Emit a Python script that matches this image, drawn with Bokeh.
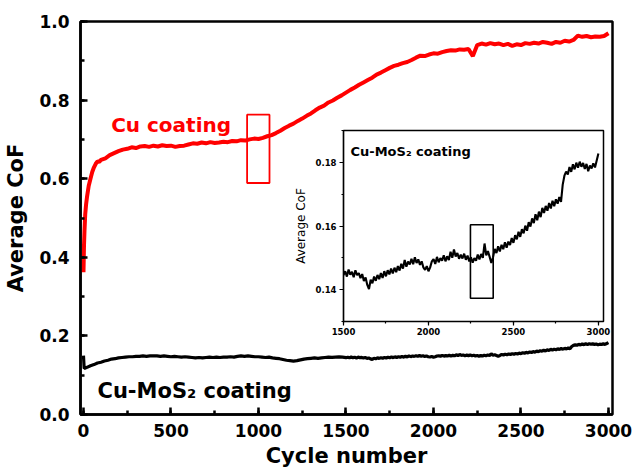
from bokeh.plotting import figure
from bokeh.models import Range1d, SingleIntervalTicker, PrintfTickFormatter, Label
from bokeh.layouts import column
from bokeh.embed import file_html
from bokeh.resources import INLINE

FONT = "DejaVu Sans"

# Average coefficient of friction of the Cu coating versus cycle number
cu_cycles = [0, 3, 6, 10, 15, 20, 30, 40, 50, 60, 70, 80, 90] + list(range(100, 3001, 25))
cu_cof = [
    0.362, 0.430, 0.470, 0.510, 0.535, 0.553, 0.582, 0.600, 0.617, 0.629, 0.638, 0.644, 0.643,
    0.648, 0.652, 0.660, 0.665, 0.670, 0.674, 0.676, 0.680, 0.678, 0.682,
    0.683, 0.681, 0.684, 0.682, 0.685, 0.683, 0.684, 0.681, 0.683, 0.684,
    0.687, 0.690, 0.689, 0.692, 0.690, 0.693, 0.691, 0.692, 0.694, 0.693,
    0.696, 0.695, 0.698, 0.697, 0.700, 0.702, 0.701, 0.704, 0.708, 0.711,
    0.716, 0.722, 0.729, 0.735, 0.740, 0.747, 0.753, 0.760, 0.766, 0.774,
    0.781, 0.786, 0.794, 0.799, 0.806, 0.812, 0.819, 0.826, 0.832, 0.839,
    0.845, 0.851, 0.857, 0.865, 0.870, 0.876, 0.882, 0.887, 0.890, 0.894,
    0.897, 0.902, 0.908, 0.913, 0.912, 0.916, 0.919, 0.918, 0.922, 0.925,
    0.927, 0.926, 0.929, 0.928, 0.930, 0.912, 0.940, 0.944, 0.941, 0.945,
    0.942, 0.944, 0.940, 0.943, 0.938, 0.942, 0.940, 0.945, 0.943, 0.946,
    0.944, 0.948, 0.946, 0.943, 0.948, 0.946, 0.951, 0.949, 0.953, 0.964,
    0.961, 0.963, 0.960, 0.962, 0.961, 0.963, 0.970,
]

# Average coefficient of friction of the Cu-MoS2 coating versus cycle number
mos2_cycles = [0, 4] + list(range(20, 1501, 20)) + list(range(1510, 3001, 10))
mos2_cof = [
    0.150, 0.117,
    # 20 - 1500, every 20 cycles
    0.120, 0.124, 0.127, 0.131, 0.133, 0.136, 0.138, 0.141, 0.142, 0.144,
    0.145, 0.146, 0.147, 0.147, 0.148, 0.148, 0.149, 0.148, 0.149, 0.149,
    0.149, 0.148, 0.149, 0.148, 0.147, 0.148, 0.147, 0.146, 0.147, 0.146,
    0.145, 0.144, 0.145, 0.144, 0.145, 0.146, 0.145, 0.146, 0.145, 0.146,
    0.146, 0.147, 0.146, 0.148, 0.149, 0.148, 0.149, 0.148, 0.147, 0.147,
    0.146, 0.145, 0.146, 0.144, 0.143, 0.142, 0.140, 0.138, 0.137, 0.136,
    0.137, 0.139, 0.141, 0.142, 0.143, 0.144, 0.143, 0.144, 0.145, 0.146,
    0.1452, 0.1460, 0.1468, 0.1458, 0.1446,
    # 1510 - 3000, every 10 cycles
    0.1458, 0.1441, 0.1463, 0.1447, 0.1456, 0.1439, 0.1461, 0.1446, 0.1452, 0.1436,
    0.1449, 0.1427, 0.1438, 0.1415, 0.1402, 0.1431, 0.1420, 0.1441, 0.1428, 0.1446,
    0.1433, 0.1452, 0.1437, 0.1458, 0.1442, 0.1461, 0.1448, 0.1466, 0.1451, 0.1469,
    0.1455, 0.1474, 0.1460, 0.1481, 0.1466, 0.1493, 0.1472, 0.1488, 0.1479, 0.1497,
    0.1480, 0.1502, 0.1484, 0.1495, 0.1478, 0.1489, 0.1470, 0.1462, 0.1474, 0.1458,
    0.1470, 0.1489, 0.1496, 0.1481, 0.1503, 0.1486, 0.1499, 0.1491, 0.1508, 0.1489,
    0.1505, 0.1493, 0.1519, 0.1500, 0.1526, 0.1504, 0.1515, 0.1497, 0.1510, 0.1498,
    0.1513, 0.1494, 0.1507, 0.1489, 0.1502, 0.1485, 0.1499, 0.1491, 0.1510, 0.1495,
    0.1512, 0.1500, 0.1545, 0.1508, 0.1521, 0.1503, 0.1484, 0.1502, 0.1528, 0.1515,
    0.1536, 0.1520, 0.1541, 0.1527, 0.1549, 0.1532, 0.1551, 0.1540, 0.1562, 0.1547,
    0.1571, 0.1558, 0.1582, 0.1566, 0.1590, 0.1577, 0.1601, 0.1585, 0.1612, 0.1598,
    0.1624, 0.1609, 0.1637, 0.1618, 0.1645, 0.1628, 0.1657, 0.1641, 0.1663, 0.1648,
    0.1672, 0.1655, 0.1679, 0.1662, 0.1684, 0.1670, 0.1691, 0.1676, 0.1730, 0.1758,
    0.1771, 0.1762, 0.1785, 0.1770, 0.1794, 0.1778, 0.1799, 0.1783, 0.1802, 0.1786,
    0.1798, 0.1779, 0.1795, 0.1772, 0.1790, 0.1781, 0.1797, 0.1784, 0.1806, 0.1828,
]

# Highlighted windows (cycles, CoF)
cu_box_cycles = (935, 1063)
cu_box_cof = (0.589, 0.763)
mos2_box_cycles = (2247, 2381)
mos2_box_cof = (0.1373, 0.1604)

x_ticks = dict(interval=500, minor=2)
y_ticks = dict(interval=0.2, minor=2)
inset_y_ticks = dict(interval=0.02, minor=2)


def style_axes(fig, tick_size, label_size, line_w, tick_in, tick_out, minor_in, minor_out,
               label_style="bold"):
    for ax in (fig.xaxis[0], fig.yaxis[0]):
        ax.axis_line_width = line_w
        ax.axis_line_color = "black"
        ax.major_tick_line_width = line_w
        ax.minor_tick_line_width = line_w
        ax.major_tick_in = tick_in
        ax.major_tick_out = tick_out
        ax.minor_tick_in = minor_in
        ax.minor_tick_out = minor_out
        ax.major_label_text_font = FONT
        ax.major_label_text_font_style = "bold"
        ax.major_label_text_font_size = tick_size
        ax.major_label_text_color = "black"
        ax.axis_label_text_font = FONT
        ax.axis_label_text_font_style = label_style
        ax.axis_label_text_font_size = label_size
        ax.axis_label_text_color = "black"


# ---- main chart ----
p = figure(width=634, height=471, output_backend="svg", toolbar_location=None,
           x_range=Range1d(-17, 3023), y_range=Range1d(0, 1.0),
           min_border_left=80, min_border_right=22, min_border_top=21, min_border_bottom=57)
p.grid.visible = False
p.outline_line_color = "black"
p.outline_line_width = 2.5
p.outline_line_alpha = 1.0

p.line(cu_cycles, cu_cof, color="#ff0000", line_width=4)
p.line(mos2_cycles, mos2_cof, color="black", line_width=3.2)
p.quad(left=[cu_box_cycles[0]], right=[cu_box_cycles[1]],
       bottom=[cu_box_cof[0]], top=[cu_box_cof[1]],
       fill_alpha=0, line_color="#ff0000", line_width=1.8)

p.xaxis.ticker = SingleIntervalTicker(interval=x_ticks["interval"], num_minor_ticks=x_ticks["minor"])
p.yaxis.ticker = SingleIntervalTicker(interval=y_ticks["interval"], num_minor_ticks=y_ticks["minor"])
p.yaxis.formatter = PrintfTickFormatter(format="%.1f")
p.xaxis.axis_label = "Cycle number"
p.yaxis.axis_label = "Average CoF"
style_axes(p, "17px", "21px", 2.5, 7, 0, 4, 0)
p.xaxis.major_label_standoff = 9
p.xaxis.axis_label_standoff = 4
p.yaxis.major_label_standoff = 11
p.yaxis.axis_label_standoff = 8

p.add_layout(Label(x=158, y=0.736, text="Cu coating", text_color="#ff0000",
                   text_font=FONT, text_font_style="bold", text_font_size="20px",
                   text_baseline="alphabetic"))
p.add_layout(Label(x=80, y=0.060, text="Cu-MoS\u2082 coating", text_color="black",
                   text_font=FONT, text_font_style="bold", text_font_size="21px",
                   text_baseline="alphabetic"))

# ---- inset: Cu-MoS2 detail ----
inset = figure(width=362, height=215, output_backend="svg", toolbar_location=None,
               x_range=Range1d(1500, 3030), y_range=Range1d(0.13, 0.19),
               min_border_left=80, min_border_right=22, min_border_top=6, min_border_bottom=18)
inset.grid.visible = False
inset.border_fill_alpha = 0
inset.background_fill_color = "white"
inset.outline_line_color = "black"
inset.outline_line_width = 1.5
inset.outline_line_alpha = 1.0

inset.line(mos2_cycles, mos2_cof, color="black", line_width=2.1)
inset.quad(left=[mos2_box_cycles[0]], right=[mos2_box_cycles[1]],
           bottom=[mos2_box_cof[0]], top=[mos2_box_cof[1]],
           fill_alpha=0, line_color="black", line_width=1.6)

inset.xaxis.ticker = SingleIntervalTicker(interval=x_ticks["interval"], num_minor_ticks=x_ticks["minor"])
inset.yaxis.ticker = SingleIntervalTicker(interval=inset_y_ticks["interval"],
                                          num_minor_ticks=inset_y_ticks["minor"])
inset.yaxis.formatter = PrintfTickFormatter(format="%.2f")
inset.yaxis.axis_label = "Average CoF"
style_axes(inset, "8.5px", "12px", 1.2, 0, 4, 0, 2, label_style="normal")
inset.xaxis.major_label_standoff = 2
inset.yaxis.major_label_standoff = 3
inset.yaxis.axis_label_standoff = 5

inset.add_layout(Label(x=1541, y=0.1835, text="Cu-MoS\u2082 coating", text_color="black",
                       text_font=FONT, text_font_style="bold", text_font_size="13px",
                       text_baseline="alphabetic"))

inset.styles = {"position": "absolute", "left": "263px", "top": "124px"}

layout = column(p, inset)
open("out.html", "w").write(file_html(layout, INLINE))
